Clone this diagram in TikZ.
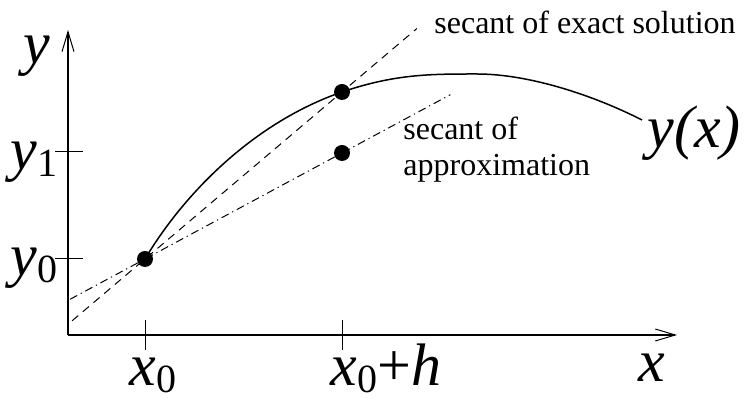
\documentclass[tikz,border=0pt]{standalone}
\usepackage{fontspec}
\setmainfont{Liberation Serif}
\usetikzlibrary{arrows.meta,calc}
\newcommand{\subvar}[2]{\textit{#1}\kern0.02em\raisebox{-0.25ex}{\upshape\fontsize{20}{20}\selectfont #2}}
\begin{document}
\begin{tikzpicture}[
		x=0.5pt, y=-0.5pt,
		axis/.style={line width=1.4pt, -{Straight Barb[length=10pt,width=6pt,line width=0.5pt]}},
		tick/.style={line width=0.5pt},
		curve/.style={line width=0.75pt},
		exact/.style={line width=0.5pt, dash pattern=on 4pt off 3pt},
		approx/.style={line width=0.5pt, dash pattern=on 4pt off 2pt on 0.6pt off 2pt},
		dot/.style={circle, fill, inner sep=0pt, minimum size=8pt},
		biglabel/.style={font=\fontsize{30}{36}\selectfont\itshape, inner sep=0pt, anchor=base},
		note/.style={font=\fontsize{16}{18}\selectfont, align=left, inner sep=0pt}
		]
		\useasboundingbox (0,0) rectangle (745,399);
		
		\coordinate (O) at (68,335);
		\coordinate (ytop) at (68,30);
		\coordinate (xend) at (677,335);
		\draw[axis] (O) -- (ytop);
		\draw[axis] (O) -- (xend);
		
		\coordinate (P0) at (145,259);
		\coordinate (P1) at (342,92);
		\coordinate (Q) at (342,153);
		\coordinate (top) at (477,74);
		\coordinate (C) at (642,120);
		
		\draw[tick] (55,152) -- (83,152);
		\draw[tick] (55,259) -- (83,259);
		\draw[tick] (145,320) -- (145,350);
		\draw[tick] (342,320) -- (342,350);
		
		\draw[exact] ($(P0)!-0.37!(P1)$) -- ($(P0)!1.38!(P1)$);
		\draw[approx] ($(P0)!-0.38!(Q)$) -- ($(P0)!1.55!(Q)$);
		
		\draw[curve] (P0) .. controls (185,192) and (255,122) .. (P1)
			.. controls (395,74) and (430,74) .. (top)
			.. controls (530,74) and (595,96) .. (C);
		
		\node[dot] (p0) at (P0) {};
		\node[dot] (p1) at (P1) {};
		\node[dot] (q) at (Q) {};
		
		\node[biglabel] (ylab) at (37,64) {y};
		\node[biglabel] (y1) at (34,170) {\subvar{y}{1}};
		\node[biglabel] (y0) at (34,276) {\subvar{y}{0}};
		\node[biglabel] (x0) at (153,386) {\subvar{x}{0}};
		\node[biglabel] (x0h) at (386,386) {\subvar{x}{0}\upshape+\textit{h}};
		\node[biglabel] (xlab) at (652,382) {x};
		\node[biglabel] (yx) at (694,148) {y(x)};
		
		\node[note] (secex) at (585,22) {secant of exact solution};
		\node[note, anchor=west] (secap) at (403,150) {secant of\\approximation};
	\end{tikzpicture}
\end{document}
